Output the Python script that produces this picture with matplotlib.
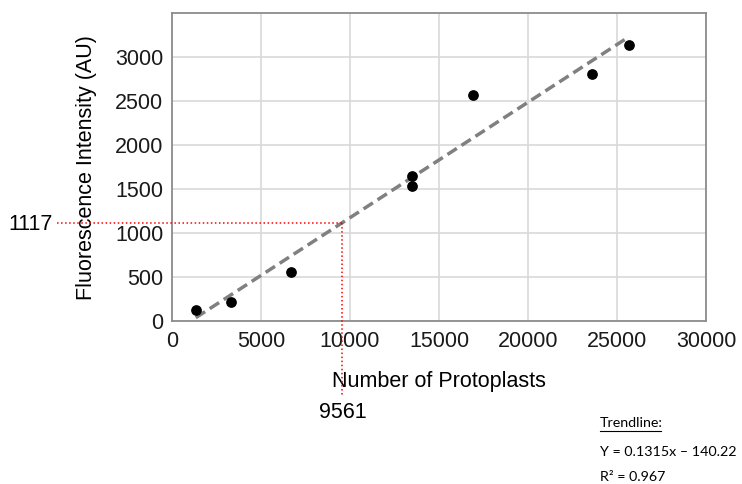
import numpy as np
import matplotlib.pyplot as plt

plt.rcParams['font.family'] = ['Liberation Sans', 'DejaVu Sans']

# data
protoplasts = [1350, 3300, 6700, 13500, 13500, 16900, 23600, 25650]
fluorescence = [125, 220, 555, 1650, 1530, 2575, 2815, 3145]

slope, intercept = 0.1315, -140.22
x_est, y_est = 9561, 1117

fs = 15.5

fig = plt.figure(figsize=(7.42, 4.84), dpi=100)
ax = fig.add_axes([0.2314, 0.3368, 0.9521 - 0.2314, 0.9725 - 0.3368])

ax.set_xlim(0, 30000)
ax.set_ylim(0, 3500)
ax.set_xticks(np.arange(0, 30001, 5000))
ax.set_yticks(np.arange(0, 3001, 500))
ax.grid(True, color="#d9d9d9", linewidth=1.2)
ax.set_axisbelow(True)
for s in ax.spines.values():
    s.set_color("#8c8c8c")
    s.set_linewidth(1.3)
ax.tick_params(length=0, labelsize=fs, colors="#1a1a1a")
ax.tick_params(axis='x', pad=7)
ax.tick_params(axis='y', pad=6)

# trendline over the range of the data
tx = np.array([min(protoplasts), max(protoplasts)])
ax.plot(tx, slope * tx + intercept, color="#808080", linewidth=2.5,
        linestyle=(0, (3.2, 1.6)), zorder=3)
ax.scatter(protoplasts, fluorescence, s=45, color="black", zorder=4)

# red guide lines to the estimate
ax.plot([-6440, x_est], [y_est, y_est], color="red", linestyle=":",
        linewidth=1.1, clip_on=False, zorder=5)
ax.plot([x_est, x_est], [y_est, -840], color="red", linestyle=":",
        linewidth=1.1, clip_on=False, zorder=5)

ax.set_xlabel("Number of Protoplasts", fontsize=fs, labelpad=14)
ax.set_ylabel("Fluorescence Intensity (AU)", fontsize=fs, labelpad=13)

fig.text(53 / 742, 1 - 225 / 484, str(y_est), fontsize=fs,
         ha="right", va="center")
fig.text(343 / 742, 1 - 412 / 484, str(x_est), fontsize=fs,
         ha="center", va="center")

tfont = ["Lato", "DejaVu Sans"]
fig.text(600 / 742, 1 - 423 / 484, "Trendline:", fontsize=10.3,
         family=tfont, va="center")
fig.add_artist(plt.Line2D([600 / 742, 661 / 742], [1 - 431 / 484] * 2,
                          color="black", linewidth=0.8))
fig.text(600 / 742, 1 - 452 / 484, "Y = 0.1315x \u2013 140.22", fontsize=10.3,
         family=tfont, va="center")
fig.text(600 / 742, 1 - 477 / 484, "R\u00b2 = 0.967", fontsize=10.3,
         family=tfont, va="center")

fig.savefig("out.png", dpi=100)
